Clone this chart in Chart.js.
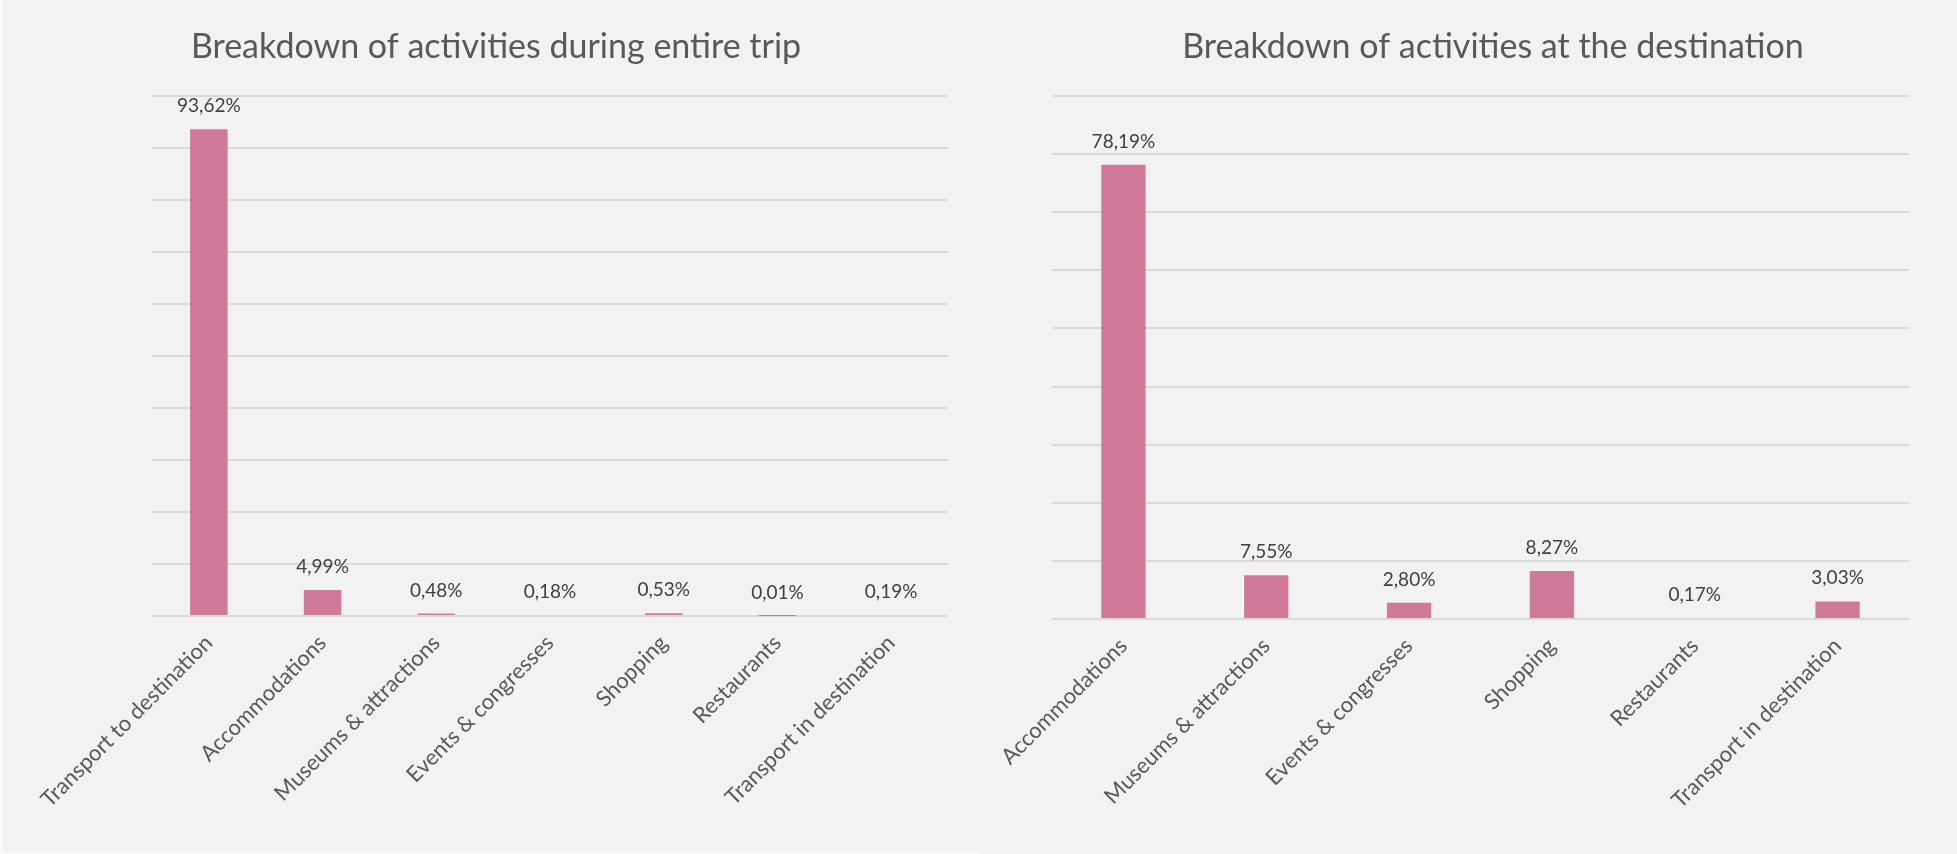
<!DOCTYPE html>
<html>
<head>
<meta charset="utf-8">
<script src="https://cdn.jsdelivr.net/npm/chart.js@4.4.1/dist/chart.umd.min.js"></script>
<style>
  html, body { margin: 0; padding: 0; width: 1957px; height: 854px; overflow: hidden; background: #f2f2f2; }
  #edge { position: absolute; left: 0; top: 0; width: 977px; height: 852px; border-left: 3px solid #f9f9f9; border-bottom: 2px solid #f9f9f9; }
  .box { position: absolute; top: 0; height: 854px; }
  #w1 { left: 0; width: 992px; }
  #w2 { left: 990px; width: 1006px; }
</style>
</head>
<body>
<div id="edge"></div>
<div class="box" id="w1"><canvas id="c1"></canvas></div>
<div class="box" id="w2"><canvas id="c2"></canvas></div>
<script>
// ---- Data ----
const title1 = 'Breakdown of activities during entire trip';
const categories1 = ['Transport to destination', 'Accommodations', 'Museums & attractions', 'Events & congresses', 'Shopping', 'Restaurants', 'Transport in destination'];
const values1 = [93.62, 4.99, 0.48, 0.18, 0.53, 0.01, 0.19];
const yMax1 = 100;
const yStep1 = 10;

const title2 = 'Breakdown of activities at the destination';
const categories2 = ['Accommodations', 'Museums & attractions', 'Events & congresses', 'Shopping', 'Restaurants', 'Transport in destination'];
const values2 = [78.19, 7.55, 2.80, 8.27, 0.17, 3.03];
const yMax2 = 90;
const yStep2 = 10;

// ---- Styling ----
const FONT = 'Lato, "Open Sans", sans-serif';
const BAR = '#d07a9b';
const GRID = '#dadada';

function fmt(v) { return v.toFixed(2).replace('.', ',') + '%'; }

const valueLabels = {
  id: 'valueLabels',
  afterDatasetsDraw(chart) {
    const ctx = chart.ctx;
    const meta = chart.getDatasetMeta(0);
    const data = chart.data.datasets[0].data;
    ctx.save();
    ctx.font = '19px ' + FONT;
    ctx.fillStyle = '#404040';
    ctx.textAlign = 'center';
    ctx.textBaseline = 'alphabetic';
    meta.data.forEach((bar, i) => {
      ctx.fillText(fmt(data[i]), bar.x, bar.y - 17);
    });
    ctx.restore();
  }
};

function makeChart(id, title, cats, vals, yMax, yStep, leftW, rightW, catPct, xHeight) {
  return new Chart(document.getElementById(id), {
    type: 'bar',
    data: {
      labels: cats,
      datasets: [{
        data: vals,
        backgroundColor: BAR,
        borderWidth: 0,
        barPercentage: 1,
        categoryPercentage: catPct
      }]
    },
    options: {
      responsive: true,
      maintainAspectRatio: false,
      animation: false,
      events: [],
      layout: { padding: 0 },
      plugins: {
        legend: { display: false },
        tooltip: { enabled: false },
        title: {
          display: true,
          text: title,
          color: '#595959',
          font: { family: FONT, size: 34, weight: 'normal', lineHeight: 1.2 },
          padding: { top: 26.6, bottom: 96 - 26.6 - 40.8 }
        }
      },
      scales: {
        x: {
          grid: { display: false, drawTicks: false },
          border: { display: false },
          ticks: {
            color: '#595959',
            font: { family: FONT, size: 22 },
            minRotation: 45,
            maxRotation: 45,
            autoSkip: false,
            padding: 14
          },
          afterFit(axis) {
            axis.height = xHeight;
            axis.paddingLeft = 0;
            axis.paddingRight = 0;
          }
        },
        y: {
          position: 'left',
          min: 0,
          max: yMax,
          ticks: { display: false, stepSize: yStep },
          grid: { color: GRID, lineWidth: 2, drawTicks: false },
          border: { display: false },
          afterFit(axis) { axis.width = leftW; }
        },
        yR: {
          position: 'right',
          min: 0,
          max: yMax,
          ticks: { display: false },
          grid: { display: false, drawTicks: false },
          border: { display: false },
          afterFit(axis) { axis.width = rightW; }
        }
      }
    },
    plugins: [valueLabels]
  });
}

makeChart('c1', title1, categories1, values1, yMax1, yStep1, 152, 992 - 948, 0.33, 854 - 616);
makeChart('c2', title2, categories2, values2, yMax2, yStep2, 1052 - 990, 1006 - (1909 - 990), 0.31, 854 - 619);
</script>
</body>
</html>
